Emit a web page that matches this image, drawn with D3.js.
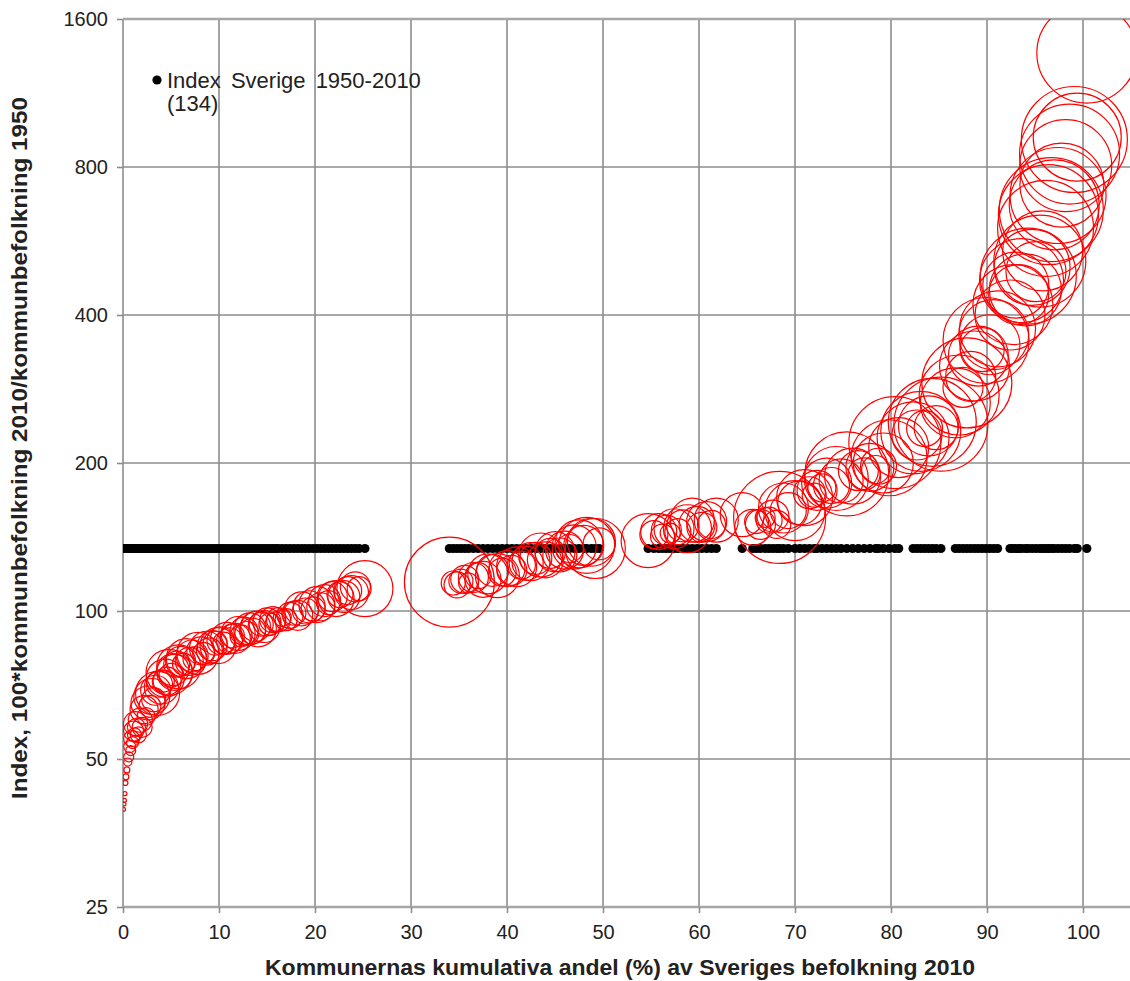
<!DOCTYPE html>
<html><head><meta charset="utf-8">
<script src="https://cdn.jsdelivr.net/npm/d3@7"></script>
<style>
body{margin:0;background:#fff;}
svg{display:block;font-family:"Liberation Sans",Arial,sans-serif;}
</style>
</head><body>
<svg id="c" width="1130" height="981"></svg>
<script>
// Kommunernas kumulativa andel (%) av Sveriges befolkning 2010
const andel = [
 0.05,0.1,0.15,0.2,0.25,0.3,0.4,0.5,0.6,0.7,0.8,0.9,1.0,1.1,1.2,1.3,1.4,
 1.6,1.8,2.0,2.2,2.4,2.6,2.8,3.0,3.2,3.4,3.6,3.8,4.0,4.2,4.4,4.6,4.8,5.0,5.2,5.4,5.6,5.8,
 6.0,6.3,6.6,6.9,7.2,7.5,7.8,8.1,8.4,8.7,9.0,9.3,9.6,9.9,10.2,10.5,10.8,11.1,11.4,11.7,
 12.0,12.3,12.6,12.9,13.2,13.5,13.8,14.1,14.4,14.7,15.0,15.3,15.6,15.9,16.2,16.6,17.0,17.4,
 17.8,18.2,18.6,19.0,19.4,19.8,20.2,20.6,21.0,21.4,21.8,22.2,22.6,23.0,23.4,23.8,24.2,24.6,25.2,
 34.0,
 34.4,34.8,35.2,35.6,36.0,36.5,37.0,37.5,38.0,38.5,39.0,39.5,40.0,40.5,41.0,41.5,42.0,42.5,
 43.0,43.5,44.0,44.5,45.0,45.5,46.0,46.5,47.0,47.5,48.0,48.3,48.8,49.2,49.6,
 54.7,55.3,55.8,56.2,56.6,57.0,57.4,57.8,58.3,58.8,59.3,59.8,60.3,60.8,61.3,61.8,
 64.5,65.6,66.0,66.4,66.9,67.3,67.7,68.1,68.4,68.8,69.3,
 70.0,70.5,71.0,71.5,72.0,72.3,72.8,73.3,73.8,74.3,74.8,75.4,76.0,76.6,77.2,77.8,78.4,78.7,79.2,79.8,80.4,
 80.8,82.3,82.7,83.1,83.5,83.9,84.3,84.7,85.2,86.7,87.1,87.5,87.9,88.3,88.7,89.1,89.5,89.9,90.3,90.7,91.1,
 92.4,92.7,93.0,93.3,93.6,94.0,94.3,94.7,95.1,95.5,95.8,96.1,96.4,96.7,97.0,97.4,97.8,98.2,98.6,99.1,99.4,100.4
];
// Index, 100*kommunbefolkning 2010/kommunbefolkning 1950
const index = [
 39.5,40.5,41.2,42.5,44.7,46,47.5,49.3,50.5,53,52,55,54,57,56,59,58,
 56,60,58,63,61,65,64,67,66,69,68,71,70,72,73,72,75,74,76,75,78,77,
 79,78,80,79,81,80,82,83,82,84,83,85,86,85,87,86,88,87,89,88,
 90,89,91,90,92,91,93,92,94,93,95,94,96,95,96,97,96,98,
 99,98,101,100,102,101,103,102,105,104,107,106,108,107,110,109,112,111,111,
 114.5,
 114,113,115,116,114,117,118,116,119,121,118,120,122,121,123,124,125,126,
 128,130,127,131,132,130,133,134,135,137,136,136,138,134,137,
 139,143,145,142,146,144,147,145,149,147,153,150,148,152,150,153,
 157,148,152,150,155,153,156,150,155,162,160,
 160,166,170,174,172,176,178,182,180,186,184,190,188,193,190,196,194,197,200,205,220,
 215,225,228,232,235,238,242,236,240,265,275,285,291,300,315,330,340,355,348,365,375,
 400,420,460,440,470,450,480,500,490,515,540,600,640,655,670,700,735,805,850,910,920,1364
];
// Bubbelstorlek (relativ)
const storlek = [
 2,2,2,2,2.5,3,3,4,5,6,5,8,6,10,7,12,9,
 8,12,10,14,9,17,11,18,12,15,22,13,17,11,19,14,23,12,16,18,13,22,
 15,11,20,14,16,12,21,14,11,17,13,15,12,18,14,11,16,13,12,15,
 17,11,14,12,16,13,15,18,12,16,14,11,13,10,12,9,11,13,
 12,15,17,13,16,12,18,14,16,12,15,18,13,16,14,17,15,12,28,
 45,
 12,13,12,14,10,15,13,18,20,16,22,14,18,15,20,14,17,19,
 16,22,18,15,20,17,19,14,22,24,20,28,24,30,16,
 27,14,18,12,15,10,20,13,16,24,22,18,15,20,14,22,
 22,18,12,15,10,13,16,14,46,25,18,
 30,22,28,16,12,20,14,25,18,32,22,42,28,20,16,24,14,18,30,38,46,
 30,36,25,40,18,30,44,22,47,35,40,20,45,25,35,30,22,43,30,35,38,
 35,40,33,30,42,36,48,38,30,46,40,48,50,52,45,48,42,46,50,53,44,50
];
const sverigeIndex = 134;
const xTicks = [0,10,20,30,40,50,60,70,80,90,100];
const yTicks = [25,50,100,200,400,800,1600];
const xTitle = "Kommunernas kumulativa andel (%) av Sveriges befolkning 2010";
const yTitle = "Index, 100*kommunbefolkning 2010/kommunbefolkning 1950";
const legendLines = ["Index Sverige 1950-2010", "(134)"];

const data = andel.map((a,i)=>({a, v:index[i], s:storlek[i]}));

const L=123, T=19, B=907, R=1130;
const svg = d3.select("#c");
const x = d3.scaleLinear().domain([0,100]).range([L,1083]);
const y = d3.scaleLog().base(2).domain([25,1600]).range([B,T]);
const r = d3.scaleLinear().domain([0,53]).range([0,53]);

svg.append("rect").attr("width",1130).attr("height",981).attr("fill","#fff");

// grid
svg.append("g").selectAll("line").data(xTicks).join("line")
  .attr("x1",d=>x(d)).attr("x2",d=>x(d)).attr("y1",T).attr("y2",B)
  .attr("stroke","#8c8c8c").attr("stroke-width",1.6);
svg.append("g").selectAll("line").data(yTicks).join("line")
  .attr("x1",L).attr("x2",R).attr("y1",d=>y(d)).attr("y2",d=>y(d))
  .attr("stroke",d=>(d===25||d===1600)?"#a6a6a6":"#8c8c8c")
  .attr("stroke-width",d=>(d===25||d===1600)?2.6:1.6);

// axes
const xa = svg.append("g").attr("transform",`translate(0,${B})`)
  .call(d3.axisBottom(x).tickValues(xTicks).tickFormat(d3.format("d")).tickSize(6).tickSizeOuter(0).tickPadding(12));
const ya = svg.append("g").attr("transform",`translate(${L},0)`)
  .call(d3.axisLeft(y).tickValues(yTicks).tickFormat(d3.format("d")).tickSize(6).tickSizeOuter(0).tickPadding(9));
[xa,ya].forEach(a=>{
  a.select(".domain").remove();
  a.selectAll(".tick line").attr("stroke","#8c8c8c").attr("stroke-width",1.6);
  a.selectAll(".tick text").attr("font-size",20).attr("fill","#222")
    .attr("font-family","'Liberation Sans',Arial,sans-serif");
});

// clip
svg.append("clipPath").attr("id","pa").append("rect")
  .attr("x",L).attr("y",T).attr("width",R-L).attr("height",B-T);

const plot = svg.append("g").attr("clip-path","url(#pa)");
// Sverige index dots
plot.append("g").selectAll("circle").data(data).join("circle")
  .attr("cx",d=>x(d.a)).attr("cy",y(sverigeIndex)).attr("r",4.6).attr("fill","#000");
// bubbles
plot.append("g").selectAll("circle").data(data).join("circle")
  .attr("cx",d=>x(d.a)).attr("cy",d=>y(d.v)).attr("r",d=>r(d.s))
  .attr("fill","none").attr("stroke","#ff0000").attr("stroke-width",1.2);

// legend
svg.append("circle").attr("cx",157).attr("cy",80).attr("r",4.6).attr("fill","#000");
svg.append("g").selectAll("text").data(legendLines).join("text")
  .attr("x",167).attr("y",(d,i)=>88+i*23).attr("font-size",22).attr("fill","#222")
  .attr("word-spacing",(d,i)=>i===0?4:0)
  .text(d=>d);

// titles
svg.append("text").attr("x",620).attr("y",975).attr("text-anchor","middle")
  .attr("font-size",22).attr("font-weight","bold").attr("fill","#222")
  .attr("textLength",710).attr("lengthAdjust","spacingAndGlyphs").text(xTitle);
svg.append("text").attr("transform","translate(27,448) rotate(-90)").attr("text-anchor","middle")
  .attr("font-size",22).attr("font-weight","bold").attr("fill","#222")
  .attr("textLength",702).attr("lengthAdjust","spacingAndGlyphs").text(yTitle);
</script>
</body></html>
